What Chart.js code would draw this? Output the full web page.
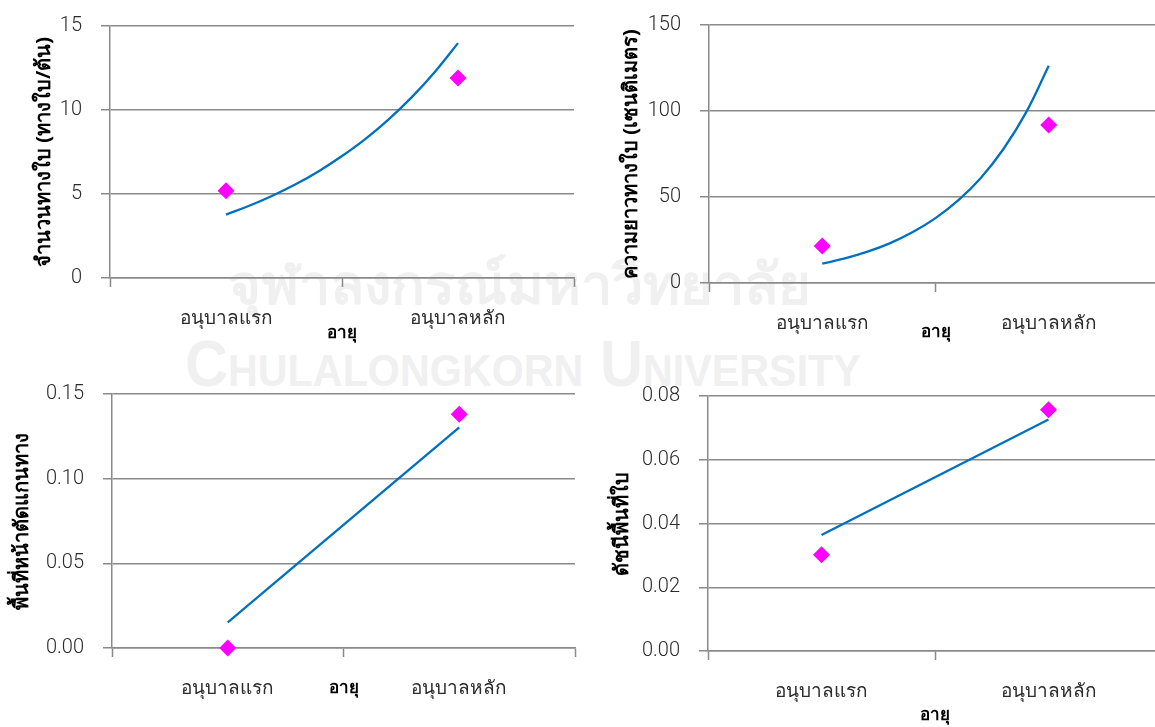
<!DOCTYPE html>
<html>
<head>
<meta charset="utf-8">
<script src="https://cdn.jsdelivr.net/npm/chart.js@4.4.1/dist/chart.umd.min.js"></script>
<style>
  html, body { margin: 0; padding: 0; background: #fff; overflow: hidden; }
  body { width: 1155px; height: 727px; position: relative; }
  canvas { position: absolute; }
  .wm { position: absolute; color: #f0f0f0; white-space: nowrap; font-weight: bold; transform-origin: 0 0; }
  #wm1 { left: 228px; top: 240px; font-size: 56px; font-family: 'Noto Sans', sans-serif; }
  #wm2 { left: 185px; top: 326px; font-size: 62px; font-family: 'Liberation Sans', sans-serif;
         font-variant: small-caps; transform: scale(0.96, 1.05); }
</style>
</head>
<body>
<div class="wm" id="wm1">จุฬาลงกรณ์มหาวิทยาลัย</div>
<div class="wm" id="wm2">Chulalongkorn University</div>
<canvas id="c1" width="594" height="365" style="left:0;top:-5px"></canvas>
<canvas id="c2" width="602" height="366" style="left:580px;top:-6px"></canvas>
<canvas id="c3" width="595" height="367" style="left:0;top:360px"></canvas>
<canvas id="c4" width="602" height="367" style="left:580px;top:360px"></canvas>
<script>
// ── data ────────────────────────────────────────────────────────────────
const AGE_LABELS = ['อนุบาลแรก', 'อนุบาลหลัก'];
const AGE_X = [1, 2];
const X_TITLE = 'อายุ';

// number of fronds
const frondCount = [5.2, 11.9];
const frondTrendX = [1, 1.1, 1.2, 1.3, 1.4, 1.5, 1.6, 1.7, 1.8, 1.9, 2.0];
const frondTrend = [3.77, 4.3, 4.9, 5.58, 6.36, 7.26, 8.27, 9.43, 10.75, 12.26, 13.98];
const frondTicks = [0, 5, 10, 15];

// frond length (cm)
const frondLength = [21.5, 91.9];
const lengthTrendX = [1, 1.1, 1.2, 1.3, 1.4, 1.5, 1.6, 1.7, 1.8, 1.9, 2.0];
const lengthTrend = [11.25, 14.3, 18.2, 23.2, 29.6, 37.7, 48.0, 61.1, 77.9, 99.2, 126.3];
const lengthTicks = [0, 50, 100, 150];

// petiole cross-section area
const petioleArea = [0.0, 0.138];
const petioleTrendX = [1, 2];
const petioleTrend = [0.0152, 0.1303];
const petioleTicks = [0, 0.05, 0.10, 0.15];

// leaf area index
const leafIndex = [0.0302, 0.0757];
const leafTrendX = [1, 2];
const leafTrend = [0.0364, 0.0726];
const leafTicks = [0, 0.02, 0.04, 0.06, 0.08];

// ── style ───────────────────────────────────────────────────────────────
const GRID = '#8a8a8a';
const TEXT = '#2b2b2b';
const TICK_FONT = { family: 'Roboto', weight: 300, size: 20 };
const THAI_FONT = "'Noto Sans', sans-serif";

function panel(id, o) {
    const pts = AGE_X.map((x, i) => ({ x: x, y: o.values[i] }));
    const trend = o.trendX.map((x, i) => ({ x: x, y: o.trend[i] }));

    return new Chart(document.getElementById(id), {
        type: 'scatter',
        data: {
            datasets: [{
                type: 'line',
                data: trend,
                borderColor: '#0070c0',
                borderWidth: 2.3,
                pointRadius: 0,
                tension: 0.4,
                fill: false
            }, {
                data: pts,
                pointStyle: 'rectRot',
                pointRadius: 8.5,
                backgroundColor: '#ff00ff',
                borderWidth: 0
            }]
        },
        options: {
            responsive: false,
            animation: false,
            clip: false,
            layout: { autoPadding: false, padding: { top: o.padTop, right: 0, left: 0, bottom: 0 } },
            plugins: { legend: { display: false }, tooltip: { enabled: false } },
            scales: {
                x: {
                    type: 'linear',
                    min: 0.5,
                    max: 2.5,
                    afterBuildTicks: s => { s.ticks = [0.5, 1, 1.5, 2, 2.5].map(v => ({ value: v })); },
                    afterFit: s => { s.height = o.xHeight; },
                    border: { color: GRID, width: 1.5 },
                    grid: {
                        drawOnChartArea: false,
                        tickLength: 9,
                        tickWidth: 1.5,
                        tickColor: c => (c.tick && c.tick.value % 1 === 0.5) ? GRID : 'rgba(0,0,0,0)'
                    },
                    ticks: {
                        autoSkip: false,
                        maxRotation: 0,
                        padding: 20,
                        color: TEXT,
                        font: { family: THAI_FONT, size: 19 },
                        callback: v => { const i = AGE_X.indexOf(v); return i < 0 ? '' : AGE_LABELS[i]; }
                    },
                    title: {
                        display: true,
                        text: X_TITLE,
                        color: '#000',
                        font: { family: THAI_FONT, size: 17, weight: 'bold' },
                        padding: { top: 0, bottom: o.xTitleBottom }
                    }
                },
                y: {
                    min: o.ticks[0],
                    max: o.ticks[o.ticks.length - 1],
                    afterBuildTicks: s => { s.ticks = o.ticks.map(v => ({ value: v })); },
                    afterFit: s => { s.width = o.yWidth; },
                    border: { color: GRID, width: 1.5 },
                    grid: { color: GRID, lineWidth: 1.5, tickLength: 9 },
                    ticks: {
                        padding: 19,
                        color: TEXT,
                        font: TICK_FONT,
                        callback: v => o.digits ? v.toFixed(o.digits) : String(v)
                    },
                    title: {
                        display: true,
                        text: o.yTitle,
                        color: '#000',
                        font: { family: THAI_FONT, size: 20, weight: 'bold' },
                        padding: { top: o.yTitleLeft, bottom: 0 }
                    }
                }
            }
        }
    });
}

panel('c1', {
    values: frondCount, trendX: frondTrendX, trend: frondTrend, ticks: frondTicks,
    yTitle: 'จำนวนทางใบ (ทางใบ/ต้น)',
    padTop: 30, yWidth: 110, xHeight: 82, xTitleBottom: 17, yTitleLeft: 32
});
panel('c2', {
    values: frondLength, trendX: lengthTrendX, trend: lengthTrend, ticks: lengthTicks,
    yTitle: 'ความยาวทางใบ (เซนติเมตร)',
    padTop: 30, yWidth: 129, xHeight: 77, xTitleBottom: 18, yTitleLeft: 39
});
panel('c3', {
    values: petioleArea, trendX: petioleTrendX, trend: petioleTrend, ticks: petioleTicks, digits: 2,
    yTitle: 'พื้นที่หน้าตัดแกนทาง',
    padTop: 34, yWidth: 112, xHeight: 79, xTitleBottom: 29, yTitleLeft: 10
});
panel('c4', {
    values: leafIndex, trendX: leafTrendX, trend: leafTrend, ticks: leafTicks, digits: 2,
    yTitle: 'ดัชนีพื้นที่ใบ',
    padTop: 36, yWidth: 128, xHeight: 76, xTitleBottom: 2, yTitleLeft: 30
});
</script>
</body>
</html>
